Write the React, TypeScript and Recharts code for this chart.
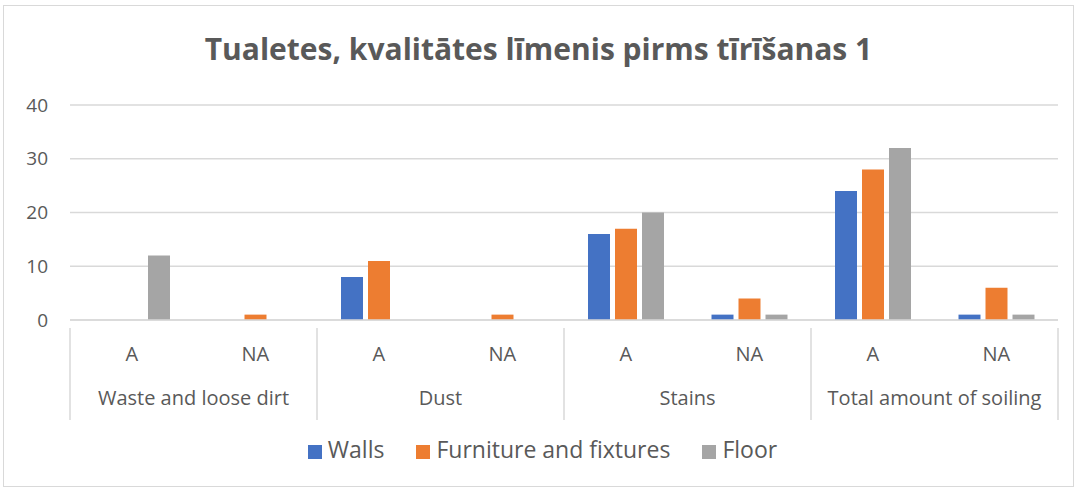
import React from 'react';
import { BarChart, Bar, XAxis, YAxis, CartesianGrid, Legend } from 'recharts';

const groups = ['Waste and loose dirt', 'Dust', 'Stains', 'Total amount of soiling'];
const subLabels = ['A', 'NA'];
const walls = [0, 0, 8, 0, 16, 1, 24, 1];
const furniture = [0, 1, 11, 1, 17, 4, 28, 6];
const floor = [12, 0, 0, 0, 20, 1, 32, 1];
const yTicks = [0, 10, 20, 30, 40];
const seriesOrder = ['Walls', 'Furniture and fixtures', 'Floor'];

const chartData = walls.map((w, i) => ({
  sub: subLabels[i % 2],
  grp: groups[Math.floor(i / 2)],
  walls: w,
  furniture: furniture[i],
  floor: floor[i],
}));

const FONT = '"Open Sans", "Noto Sans", sans-serif';
const TEXT = '#595959';
const GRID = '#d9d9d9';

const PLOT_LEFT = 70;
const PLOT_RIGHT = 1058;
const CAT_W = (PLOT_RIGHT - PLOT_LEFT) / chartData.length;

// two-level category tick: A/NA on the first row, group name + separators below
const CategoryTick = (props: any) => {
  const { x, y, payload, index } = props;
  const row = chartData[index];
  const half = CAT_W / 2;
  return (
    <g>
      <text x={x} y={y + 33} textAnchor="middle" fill={TEXT} fontSize={20} fontFamily={FONT}>
        {payload.value}
      </text>
      {index % 2 === 0 && (
        <>
          <line x1={x - half} y1={y} x2={x - half} y2={y + 92} stroke={GRID} strokeWidth={1.5} />
          <text x={x + half} y={y + 77} textAnchor="middle" fill={TEXT} fontSize={20} fontFamily={FONT}>
            {row.grp}
          </text>
        </>
      )}
      {index === chartData.length - 1 && (
        <line x1={x + half} y1={y} x2={x + half} y2={y + 92} stroke={GRID} strokeWidth={1.5} />
      )}
    </g>
  );
};

export default function App() {
  return (
    <div style={{ position: 'absolute', left: 0, top: 0, width: 1077, height: 488, background: '#fff' }}>
      <div
        style={{
          position: 'absolute',
          left: 3,
          top: 5,
          width: 1069,
          height: 480,
          border: `1px solid ${GRID}`,
        }}
      />
      <div
        style={{
          position: 'absolute',
          top: 27,
          left: 0,
          width: 1077,
          textAlign: 'center',
          fontFamily: FONT,
          fontWeight: 700,
          fontSize: 30,
          lineHeight: '44px',
          color: TEXT,
        }}
      >
        Tualetes, kvalitātes līmenis pirms tīrīšanas 1
      </div>
      <div style={{ position: 'absolute', left: 0, top: 0 }}>
        <BarChart
          width={1077}
          height={488}
          data={chartData}
          margin={{ top: 105, right: 1077 - PLOT_RIGHT, left: 0, bottom: 44 }}
          barCategoryGap={24}
          barGap={5}
        >
          <CartesianGrid vertical={false} stroke={GRID} strokeWidth={1.5} />
          <XAxis
            dataKey="sub"
            interval={0}
            height={92}
            tickLine={false}
            axisLine={{ stroke: GRID, strokeWidth: 1.5 }}
            tick={<CategoryTick />}
          />
          <YAxis
            width={PLOT_LEFT}
            domain={[0, 40]}
            ticks={yTicks}
            tickLine={false}
            axisLine={false}
            tickMargin={16}
            tick={{ fill: TEXT, fontSize: 19, fontFamily: FONT }}
          />
          <Legend
            verticalAlign="bottom"
            height={32}
            iconType="square"
            iconSize={14}
            itemSorter={(item: any) => seriesOrder.indexOf(item.value)}
            wrapperStyle={{ top: 433, left: 20, width: 1077, fontFamily: FONT, fontSize: 23 }}
            formatter={(v: string) => <span style={{ color: TEXT, marginRight: 22, marginLeft: 2 }}>{v}</span>}
          />
          <Bar dataKey="walls" name="Walls" fill="#4472C4" isAnimationActive={false} />
          <Bar dataKey="furniture" name="Furniture and fixtures" fill="#ED7D31" isAnimationActive={false} />
          <Bar dataKey="floor" name="Floor" fill="#A5A5A5" isAnimationActive={false} />
        </BarChart>
      </div>
    </div>
  );
}
